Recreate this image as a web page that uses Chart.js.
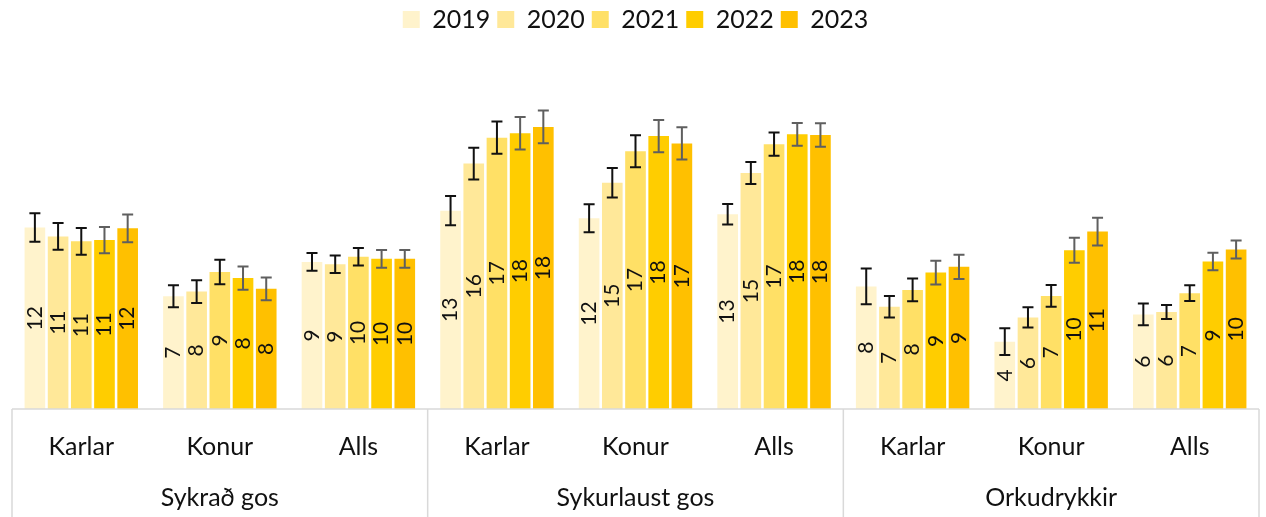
<!DOCTYPE html>
<html>
<head>
<meta charset="utf-8">
<script src="https://cdn.jsdelivr.net/npm/chart.js@4.4.1/dist/chart.umd.min.js"></script>
<style>
  html, body { margin: 0; padding: 0; background: #fff; }
  #wrap { width: 1266px; height: 517px; }
</style>
</head>
<body>
<div id="wrap"><canvas id="drinkChart"></canvas></div>
<script>
var categories = ["Karlar", "Konur", "Alls", "Karlar", "Konur", "Alls", "Karlar", "Konur", "Alls"];
var groups = ["Sykrað gos", "Sykurlaust gos", "Orkudrykkir"];
var years = ["2019", "2020", "2021", "2022", "2023"];
var colors = ["#FFF3CC", "#FFE899", "#FFE066", "#FFCD00", "#FFC000"];
var errColors = ["#111", "#111", "#111", "#5f5f5f", "#5f5f5f"];

var v2019 = [11.67, 7.25, 9.46, 12.75, 12.27, 12.53, 7.88, 4.33, 6.08];
var v2020 = [11.10, 7.55, 9.31, 15.78, 14.55, 15.18, 6.58, 5.89, 6.23];
var v2021 = [10.78, 8.81, 9.79, 17.45, 16.58, 17.03, 7.66, 7.27, 7.45];
var v2022 = [10.86, 8.42, 9.66, 17.73, 17.55, 17.66, 8.77, 10.21, 9.48];
var v2023 = [11.62, 7.73, 9.66, 18.14, 17.08, 17.62, 9.14, 11.41, 10.26];

var e2019 = [0.91, 0.70, 0.57, 0.94, 0.90, 0.66, 1.15, 0.86, 0.70];
var e2020 = [0.86, 0.73, 0.56, 1.02, 0.95, 0.71, 0.69, 0.65, 0.45];
var e2021 = [0.86, 0.79, 0.57, 1.03, 1.03, 0.75, 0.73, 0.70, 0.51];
var e2022 = [0.84, 0.75, 0.57, 1.04, 1.04, 0.73, 0.77, 0.81, 0.56];
var e2023 = [0.89, 0.73, 0.57, 1.05, 1.03, 0.76, 0.78, 0.89, 0.58];

var values = [v2019, v2020, v2021, v2022, v2023];
var errors = [e2019, e2020, e2021, e2022, e2023];

var FONT = "Lato";

// error bars + rotated value labels
var barExtras = {
	id: "barExtras",
	afterDatasetsDraw: function (chart) {
		var ctx = chart.ctx;
		var y = chart.scales.y;
		ctx.save();
		chart.data.datasets.forEach(function (ds, i) {
			var meta = chart.getDatasetMeta(i);
			meta.data.forEach(function (bar, j) {
				var val = ds.data[j];
				var err = errors[i][j];
				// label
				ctx.save();
				ctx.translate(bar.x, (bar.y + bar.base) / 2);
				ctx.rotate(-Math.PI / 2);
				ctx.fillStyle = "#111";
				ctx.font = "21px " + FONT;
				ctx.textAlign = "center";
				ctx.textBaseline = "middle";
				ctx.fillText(String(Math.round(val)), 0, 0);
				ctx.restore();
				// error bar
				var top = y.getPixelForValue(val + err);
				var bot = y.getPixelForValue(val - err);
				ctx.strokeStyle = errColors[i];
				ctx.lineWidth = 2;
				ctx.beginPath();
				ctx.moveTo(bar.x, top);
				ctx.lineTo(bar.x, bot);
				ctx.moveTo(bar.x - 5.5, top);
				ctx.lineTo(bar.x + 5.5, top);
				ctx.moveTo(bar.x - 5.5, bot);
				ctx.lineTo(bar.x + 5.5, bot);
				ctx.stroke();
			});
		});
		ctx.restore();
	},
	afterDraw: function (chart) {
		var ctx = chart.ctx;
		var x = chart.scales.x;
		var bottom = chart.chartArea.bottom;
		ctx.save();
		ctx.strokeStyle = "#d9d9d9";
		ctx.lineWidth = 1.5;
		ctx.beginPath();
		ctx.moveTo(x.getPixelForValue(-0.5), bottom);
		ctx.lineTo(x.getPixelForValue(8.5), bottom);
		[-0.5, 2.5, 5.5, 8.5].forEach(function (p) {
			var px = x.getPixelForValue(p);
			ctx.moveTo(px, bottom);
			ctx.lineTo(px, chart.height);
		});
		ctx.stroke();
		ctx.fillStyle = "#111";
		ctx.font = "25px " + FONT;
		ctx.textAlign = "center";
		ctx.textBaseline = "middle";
		groups.forEach(function (g, k) {
			ctx.fillText(g, x.getPixelForValue(k * 3 + 1), 498);
		});
		ctx.restore();
	}
};

var ctx = document.getElementById("drinkChart").getContext("2d");
new Chart(ctx, {
	type: "bar",
	data: {
		labels: categories,
		datasets: years.map(function (yr, i) {
			return {
				label: yr,
				data: values[i],
				backgroundColor: colors[i],
				categoryPercentage: 0.837,
				barPercentage: 0.89,
			};
		}),
	},
	options: {
		responsive: true,
		maintainAspectRatio: false,
		animation: false,
		layout: { padding: { left: 12, right: 7, top: 0, bottom: 32 } },
		plugins: {
			legend: {
				position: "top",
				labels: {
					boxWidth: 17,
					boxHeight: 17,
					padding: 7,
					color: "#111",
					font: { family: FONT, size: 25 },
				},
			},
			tooltip: { enabled: false },
		},
		scales: {
			x: {
				grid: { display: false, drawTicks: false },
				border: { display: false },
				ticks: { color: "#111", padding: 23, font: { family: FONT, size: 25 } },
			},
			y: {
				display: false,
				min: 0,
				max: 23.6,
			},
		},
	},
	plugins: [barExtras],
});
</script>
</body>
</html>
